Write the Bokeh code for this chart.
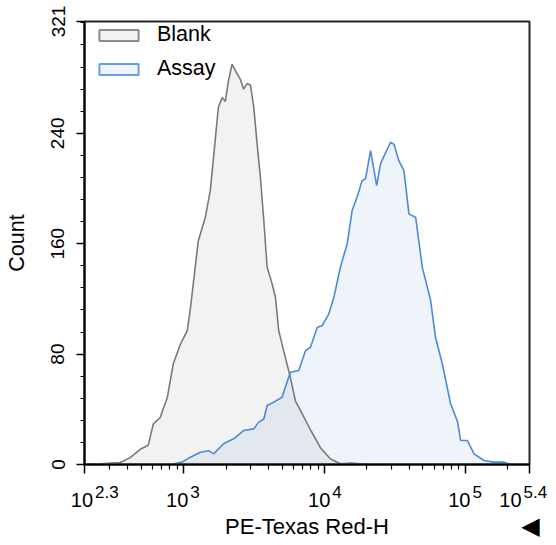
from bokeh.plotting import figure
from bokeh.models import Range1d, FixedTicker, Label, Legend, LegendItem
from bokeh.embed import file_html
from bokeh.resources import INLINE

FONT = "Liberation Sans"

# ---- data (fluorescence intensity, count) ----
blank_x = [198, 256, 355, 418, 492, 561, 610, 682, 766, 845, 948, 1062, 1114, 1172, 1271,
           1426, 1549, 1766, 1884, 1977, 2080, 2208, 2399, 2529, 2667, 2818, 2979, 3148, 3327,
           3508, 3707, 3917, 4246, 4487, 4732, 5140, 5728, 6223, 6761, 7962, 9376, 11041,
           13002, 15311, 21232]
blank_y = [0, 0.5, 1.5, 5, 11, 14, 29.5, 34, 48.5, 73, 87, 97, 112, 131, 162,
           179, 199, 259, 266, 263, 278, 290, 283, 279, 272, 276, 275, 259, 232,
           208, 177, 143, 131, 121, 97, 82, 63, 46, 39, 25, 12, 4,
           0.5, 1, 0]

assay_x = [804, 975, 1117, 1315, 1507, 1633, 1923, 2265, 2667, 3148, 3412, 3707, 3917, 4365,
           5000, 5272, 5728, 6561, 7328, 7943, 8872, 9616, 10715, 11641, 12972, 14488, 15704,
           17061, 18493, 19543, 21232, 23442, 25003, 27164, 29444, 31117, 33729, 36644, 39719,
           44361, 49431, 56624, 61376, 68549, 78524, 87700, 92470, 103276, 115080, 135519,
           159587, 187932, 208930]
assay_y = [0, 1.7, 5.3, 8.9, 10, 7.7, 15, 18.6, 24.6, 25.8, 30.7, 33, 42.8, 45.2,
           48.7, 56, 66.9, 68.1, 82.5, 84.8, 99.3, 100.7, 109, 121, 143, 160, 184,
           194, 205.7, 207, 227.5, 202, 218, 226, 233.5, 232, 220, 213, 181.6,
           179, 143, 119, 92, 73, 44, 31.4, 17.4, 17.4, 7.7, 2.9,
           1.7, 1.7, 0]

series_names = ["Blank", "Assay"]

# ---- axes ----
X_START, X_END = 198, 285000
Y_END = 321
x_major = [198, 1000, 10000, 100000, 285000]
x_base = ["10", "10", "10", "10", "10"]
x_exp = ["2.3", "3", "4", "5", "5.4"]
x_minor = [300, 400, 500, 600, 700, 800, 900,
           2000, 3000, 4000, 5000, 6000, 7000, 8000, 9000,
           20000, 30000, 40000, 50000, 60000, 70000, 80000, 90000,
           200000]
y_major = [0, 80, 160, 240, 321]
y_minor = [16, 32, 48, 64, 96, 112, 128, 144, 176, 192, 208, 224, 256, 272, 288, 304, 320]
x_title = "PE-Texas Red-H"
y_title = "Count"

# junction offsets (px) between "10" and its exponent, relative to each tick
junction = [9.5, 5.7, 6.8, 6.0, -7.0]

p = figure(frame_width=445, frame_height=443, x_axis_type="log",
           x_range=Range1d(X_START, X_END), y_range=Range1d(0, Y_END),
           output_backend="svg", toolbar_location=None,
           min_border_left=84, min_border_right=26, min_border_top=21, min_border_bottom=80,
           background_fill_color="white", border_fill_color="white")

p.xgrid.visible = False
p.ygrid.visible = False
p.outline_line_color = "#262626"
p.outline_line_width = 2
p.outline_line_alpha = 1

# fills and lines
p.varea(x=blank_x, y1=0, y2=blank_y, fill_color="#808080", fill_alpha=0.1)
p.varea(x=assay_x, y1=0, y2=assay_y, fill_color="#4a86d8", fill_alpha=0.09)
p.line(blank_x, blank_y, line_color="#7a7a7a", line_width=1.6)
p.line(assay_x, assay_y, line_color="#4a8ad8", line_width=1.6)

# legend proxies (hidden, one box spanning each series)
blank_proxy = p.quad(left=[blank_x[0]], right=[blank_x[-1]], top=[max(blank_y)], bottom=[0],
                     fill_color="#f3f3f3", line_color="#8c8c8c", line_width=2, visible=False)
assay_proxy = p.quad(left=[assay_x[0]], right=[assay_x[-1]], top=[max(assay_y)], bottom=[0],
                     fill_color="#eef3fc", line_color="#6a9ee3", line_width=2, visible=False)
legend = Legend(items=[LegendItem(label=series_names[0], renderers=[blank_proxy]),
                       LegendItem(label=series_names[1], renderers=[assay_proxy])],
                location=(10, 383), glyph_width=49, glyph_height=14, label_height=20,
                label_standoff=14, spacing=9, padding=0, margin=0,
                border_line_color=None, background_fill_alpha=0,
                label_text_font=FONT, label_text_font_size="21.5px", label_text_color="black")
p.add_layout(legend)

# x axis
xa = p.xaxis[0]
xa.ticker = FixedTicker(ticks=x_major, minor_ticks=x_minor)
xa.major_label_overrides = {t: "" for t in x_major}
xa.major_label_text_font_size = "1px"
xa.major_label_standoff = 0
xa.axis_line_color = "black"
xa.axis_line_width = 2
xa.major_tick_line_color = "black"
xa.major_tick_line_width = 1.5
xa.minor_tick_line_color = "black"
xa.minor_tick_line_width = 1.2
xa.major_tick_in = 0
xa.major_tick_out = 9
xa.minor_tick_in = 0
xa.minor_tick_out = 5
xa.axis_label = x_title
xa.axis_label_text_font = FONT
xa.axis_label_text_font_size = "22px"
xa.axis_label_text_font_style = "normal"
xa.axis_label_text_color = "black"
xa.axis_label_standoff = 40

# y axis
ya = p.yaxis[0]
ya.ticker = FixedTicker(ticks=y_major, minor_ticks=y_minor)
ya.major_label_orientation = "vertical"
ya.major_label_text_font = FONT
ya.major_label_text_font_size = "19px"
ya.major_label_text_color = "black"
ya.major_label_standoff = 12
ya.axis_line_color = "black"
ya.axis_line_width = 2
ya.major_tick_line_color = "black"
ya.major_tick_line_width = 1.5
ya.minor_tick_line_color = "black"
ya.minor_tick_line_width = 1.2
ya.major_tick_in = 0
ya.major_tick_out = 8
ya.minor_tick_in = 0
ya.minor_tick_out = 4
ya.axis_label = y_title
ya.axis_label_text_font = FONT
ya.axis_label_text_font_size = "21.5px"
ya.axis_label_text_font_style = "normal"
ya.axis_label_text_color = "black"
ya.axis_label_standoff = 20

# x tick labels as base + superscript exponent (placed in the panel below the frame)
for t, b, e, d in zip(x_major, x_base, x_exp, junction):
    p.add_layout(Label(x=t, y=0, x_offset=d - 1, y_offset=-35, text=b,
                       text_align="right", text_baseline="alphabetic",
                       text_font=FONT, text_font_size="20px", text_color="black"), "below")
    p.add_layout(Label(x=t, y=0, x_offset=d + 1, y_offset=-27, text=e,
                       text_align="left", text_baseline="alphabetic",
                       text_font=FONT, text_font_size="17px", text_color="black"), "below")

# small arrow marker at bottom right
p.add_layout(Label(x=X_END, y=0, x_offset=1, y_offset=-61, text="\u25C0",
                   text_align="center", text_baseline="middle",
                   text_font="DejaVu Sans", text_font_size="24px", text_color="black"), "below")

open("out.html", "w").write(file_html(p, INLINE))
